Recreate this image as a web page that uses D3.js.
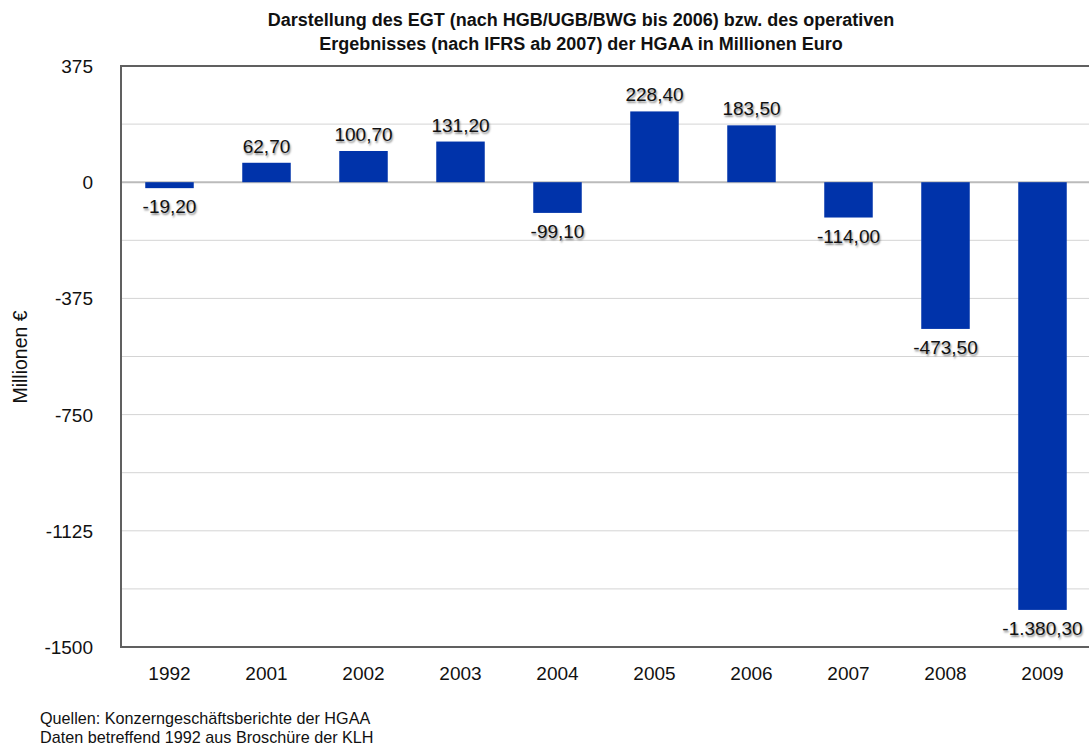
<!DOCTYPE html>
<html><head><meta charset="utf-8">
<script src="https://cdn.jsdelivr.net/npm/d3@7"></script>
<style>
body{margin:0;background:#fff;}
text{font-family:"Liberation Sans",Arial,Helvetica,sans-serif;}
.val{text-shadow:1px 2px 2px rgba(0,0,0,0.45);}
</style></head><body>
<svg id="c" width="1089" height="746"></svg>
<script>
const categories=["1992","2001","2002","2003","2004","2005","2006","2007","2008","2009"];
const values=[-19.2,62.7,100.7,131.2,-99.1,228.4,183.5,-114.0,-473.5,-1380.3];
const valueLabels=["-19,20","62,70","100,70","131,20","-99,10","228,40","183,50","-114,00","-473,50","-1.380,30"];
const yTicks=[375,0,-375,-750,-1125,-1500];
const gridTicks=[375,187.5,0,-187.5,-375,-562.5,-750,-937.5,-1125,-1312.5,-1500];
const titleLines=["Darstellung des EGT (nach HGB/UGB/BWG bis 2006) bzw. des operativen","Ergebnisses (nach IFRS ab 2007) der HGAA in Millionen Euro"];
const notes=["Quellen: Konzerngeschäftsberichte der HGAA","Daten betreffend 1992 aus Broschüre der KLH"];

const svg=d3.select("#c");
const L=121,R=1091,T=66,B=647;
const x=d3.scaleBand().domain(categories).range([L,R]).paddingInner(0.5).paddingOuter(0.25);
const y=d3.scaleLinear().domain([-1500,375]).range([B,T]);

svg.append("g").selectAll("line").data(gridTicks).join("line")
 .attr("x1",L).attr("x2",1089).attr("y1",d=>y(d)).attr("y2",d=>y(d))
 .attr("stroke",d=>d===0?"#bbb":"#d4d4d4").attr("stroke-width",d=>d===0?2:1);

svg.append("g").selectAll("rect").data(values).join("rect")
 .attr("x",(d,i)=>x(categories[i])).attr("width",x.bandwidth())
 .attr("y",d=>y(Math.max(0,d))).attr("height",d=>Math.abs(y(d)-y(0)))
 .attr("fill","#0033aa");

// frame
svg.append("line").attr("x1",L).attr("x2",1089).attr("y1",T).attr("y2",T).attr("stroke","#606060").attr("stroke-width",2);
svg.append("line").attr("x1",L).attr("x2",1089).attr("y1",B).attr("y2",B).attr("stroke","#606060").attr("stroke-width",2);
svg.append("line").attr("x1",L).attr("x2",L).attr("y1",T-1).attr("y2",B+1).attr("stroke","#606060").attr("stroke-width",2);

svg.append("g").selectAll("text").data(yTicks).join("text")
 .attr("x",93).attr("y",d=>y(d)+7).attr("text-anchor","end")
 .attr("font-size",19).attr("fill","#111").text(d=>d);

svg.append("g").selectAll("text").data(categories).join("text")
 .attr("x",d=>x(d)+x.bandwidth()/2).attr("y",680).attr("text-anchor","middle")
 .attr("font-size",19).attr("fill","#111").text(d=>d);

svg.append("g").selectAll("text").data(values).join("text").attr("class","val")
 .attr("x",(d,i)=>x(categories[i])+x.bandwidth()/2)
 .attr("y",d=>d>=0?y(d)-10:y(d)+25).attr("text-anchor","middle")
 .attr("font-size",19).attr("fill","#111").text((d,i)=>valueLabels[i]);

svg.append("text").attr("transform","translate(27,357) rotate(-90)").attr("text-anchor","middle")
 .attr("font-size",19.5).attr("fill","#111").text("Millionen €");

svg.append("g").selectAll("text").data(titleLines).join("text")
 .attr("x",581).attr("y",(d,i)=>26+i*24).attr("text-anchor","middle")
 .attr("font-size",18).attr("font-weight","bold").attr("fill","#111").text(d=>d);

svg.append("g").selectAll("text").data(notes).join("text")
 .attr("x",40).attr("y",(d,i)=>724+i*18.5)
 .attr("font-size",16.2).attr("fill","#111").text(d=>d);
</script></body></html>
